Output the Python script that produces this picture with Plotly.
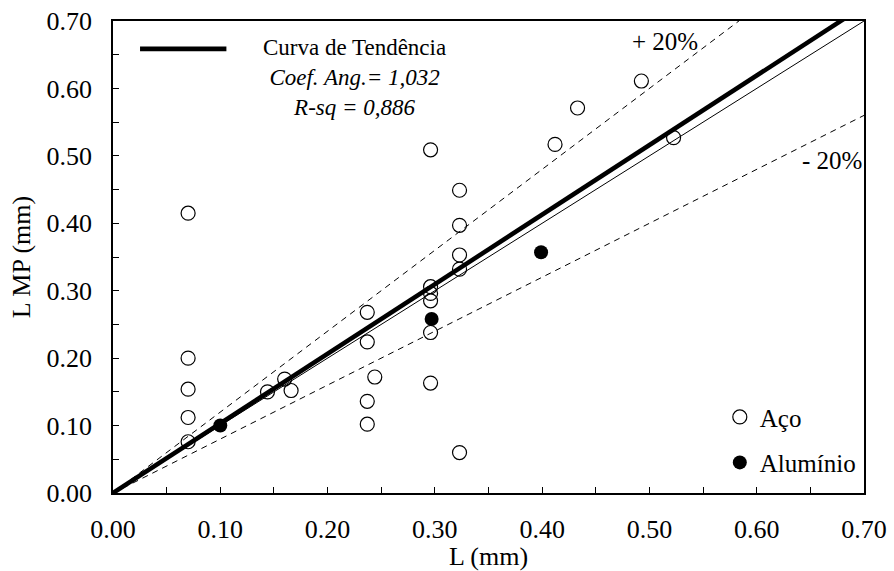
import plotly.graph_objects as go

# Data
aco_x = [0.07, 0.07, 0.07, 0.07, 0.07, 0.144, 0.160, 0.166,
         0.237, 0.237, 0.244, 0.237, 0.237,
         0.296, 0.296, 0.296, 0.296, 0.296, 0.296,
         0.323, 0.323, 0.323, 0.323, 0.323,
         0.412, 0.433, 0.4925, 0.5225]
aco_y = [0.415, 0.200, 0.154, 0.112, 0.076, 0.150, 0.169, 0.152,
         0.268, 0.224, 0.172, 0.136, 0.102,
         0.509, 0.306, 0.296, 0.285, 0.238, 0.163,
         0.449, 0.397, 0.353, 0.332, 0.060,
         0.517, 0.571, 0.611, 0.527]
alu_x = [0.10, 0.297, 0.399]
alu_y = [0.10, 0.258, 0.357]
slope = 1.032
line_x = [0.0, 0.70]

FONT = "Times New Roman"
FS = 25

fig = go.Figure()
# dashed +/-20%
fig.add_trace(go.Scatter(x=line_x, y=[v * 1.2 for v in line_x], mode="lines",
                         line=dict(color="black", width=1, dash="6px,5px"), showlegend=False))
fig.add_trace(go.Scatter(x=line_x, y=[v * 0.8 for v in line_x], mode="lines",
                         line=dict(color="black", width=1, dash="6px,5px"), showlegend=False))
# identity
fig.add_trace(go.Scatter(x=line_x, y=line_x, mode="lines",
                         line=dict(color="black", width=1), showlegend=False))
# trend
fig.add_trace(go.Scatter(x=line_x, y=[v * slope for v in line_x], mode="lines",
                         line=dict(color="black", width=4.5), showlegend=False))
# points
fig.add_trace(go.Scatter(x=aco_x, y=aco_y, mode="markers", name="Aço", legendgroup="a",
                         marker=dict(symbol="circle-open", size=14, color="black",
                                     line=dict(width=1.2, color="black")),
                         legend="legend2"))
fig.add_trace(go.Scatter(x=alu_x, y=alu_y, mode="markers", name="Alumínio", legendgroup="b",
                         marker=dict(symbol="circle", size=14, color="black"),
                         legend="legend2"))

axis_common = dict(range=[0, 0.70], dtick=0.10, tickformat=".2f", showgrid=False,
                   zeroline=False, showline=True, linecolor="black", linewidth=1.5,
                   mirror=True, ticks="inside", ticklen=6, tickcolor="black", automargin=False,
                   minor=dict(ticks="inside", dtick=0.05, ticklen=6, tickcolor="black"),
                   tickfont=dict(family=FONT, size=26, color="black"))

fig.update_xaxes(**axis_common, ticklabelstandoff=12,
                 title=dict(text="L (mm)", font=dict(family=FONT, size=26, color="black"),
                            standoff=7))
fig.update_yaxes(**axis_common, ticklabelstandoff=14,
                 title=dict(text="L MP (mm)", font=dict(family=FONT, size=26, color="black"),
                            standoff=8))

fig.add_shape(type="line", xref="paper", yref="paper", x0=0.036, x1=0.151, y0=0.941, y1=0.941,
              line=dict(color="black", width=4.7))

fig.add_annotation(xref="paper", yref="paper", showarrow=False, x=0.322, y=0.881,
                   xanchor="center", yanchor="middle", align="center",
                   text="Curva de Tendência<br><i>Coef. Ang.= 1,032</i><br><i>R-sq = 0,886</i>",
                   font=dict(family=FONT, size=23, color="black"))
for x, y, t in [(0.735, 0.956, "+ 20%"), (0.957, 0.704, "- 20%")]:
    fig.add_annotation(xref="paper", yref="paper", showarrow=False, x=x, y=y, text=t,
                       xanchor="center", yanchor="middle",
                       font=dict(family=FONT, size=FS, color="black"))

fig.update_layout(
    width=894, height=571,
    margin=dict(l=113, r=30, t=21, b=78),
    paper_bgcolor="white", plot_bgcolor="white",
    font=dict(family=FONT, size=FS, color="black"),
    legend2=dict(x=0.808, y=0.113, xanchor="left", yanchor="middle",
                 bgcolor="rgba(0,0,0,0)", font=dict(family=FONT, size=FS, color="black"),
                 tracegroupgap=10, itemwidth=30),
    showlegend=True,
)

fig.write_html("out.html")
